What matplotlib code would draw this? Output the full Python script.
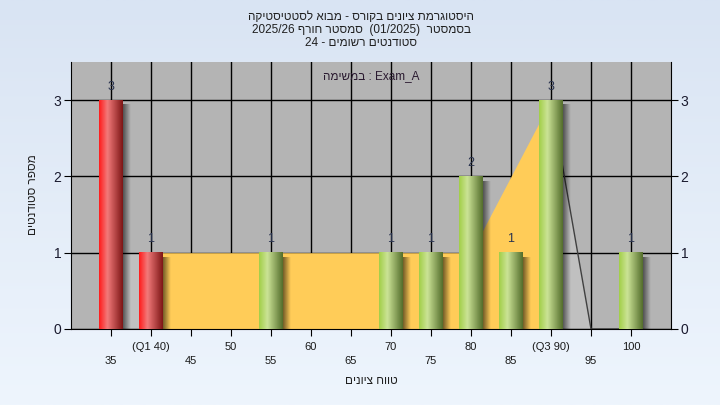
import re
import numpy as np
import matplotlib
matplotlib.use('Agg')
import matplotlib.pyplot as plt
from matplotlib.colors import LinearSegmentedColormap

plt.rcParams['font.family'] = ['Liberation Sans', 'DejaVu Sans']

# --- data ---
bin_centers = [35, 40, 55, 70, 75, 80, 85, 90, 100]
counts = [3, 1, 1, 1, 1, 2, 1, 3, 1]
q1, q3 = 40, 90

area_x = [35, 40, 45, 50, 55, 60, 65, 70, 75, 80, 85, 90, 95, 100]
area_y = [1, 1, 1, 1, 1, 1, 1, 1, 1, 1, 2, 3, 0, 0]

tick_values = [35, 40, 45, 50, 55, 60, 65, 70, 75, 80, 85, 90, 95, 100]
tick_labels = ['35', '(Q1 40)', '45', '50', '55', '60', '65', '70', '75',
               '80', '85', '(Q3 90)', '95', '100']

title_lines = ['היסטוגרמת ציונים בקורס - מבוא לסטטיסטיקה',
               'בסמסטר  (01/2025)  סמסטר חורף 2025/26',
               'סטודנטים רשומים - 24']
series_name = 'Exam_A'
x_title = 'טווח ציונים'
y_title = 'מספר סטודנטים'


def rtl(s):
    # simple visual reordering for Hebrew text (matplotlib has no bidi)
    r = s[::-1]
    r = re.sub(r'[0-9A-Za-z/_.:]+', lambda m: m.group(0)[::-1], r)
    return r.translate(str.maketrans('()', ')('))


fig = plt.figure(figsize=(7.2, 4.05), dpi=100)

# figure background gradient
bg = fig.add_axes([0, 0, 1, 1], zorder=-10)
grad = np.linspace(0, 1, 256).reshape(-1, 1)
bg.imshow(grad, aspect='auto', extent=[0, 1, 0, 1], origin='upper',
          cmap=LinearSegmentedColormap.from_list('bg', ['#d9e4f3', '#eef5fd']))
bg.axis('off')

ax = fig.add_axes([71 / 720, 1 - 329 / 405, 600 / 720, 267 / 405])
ax.set_facecolor('#b4b4b4')
ax.set_axisbelow(True)
ax.grid(True, color='black', lw=1)

# area series: grey outside the quartiles, yellow between
ax_arr = np.array(area_x)
ay_arr = np.array(area_y)
left = ax_arr <= q1
mid = (ax_arr >= q1) & (ax_arr <= q3)
right = ax_arr >= q3
ax.fill_between(ax_arr[left], 0, ay_arr[left], color='#c0c0c0', lw=0, zorder=0.3)
ax.fill_between(ax_arr[right], 0, ay_arr[right], color='#c0c0c0', lw=0, zorder=0.3)
ax.plot(ax_arr[right], ay_arr[right], color='#404040', lw=1, zorder=0.6)
ax.fill_between(ax_arr[mid], 0, ay_arr[mid], color='#ffcc58', lw=0, zorder=1)

# cylinder-style bars
red_cm = LinearSegmentedColormap.from_list(
    'r', [(0, '#ff1c1c'), (0.35, '#f27a7a'), (1, '#7e1616')])
green_cm = LinearSegmentedColormap.from_list(
    'g', [(0, '#a2cf48'), (0.35, '#cbe396'), (1, '#546e2c')])
bw = 3.0
shade = np.zeros((1, 32, 4))
shade[0, :, 3] = np.linspace(0.55, 0.0, 32)

for x, c in zip(bin_centers, counts):
    cm = red_cm if x <= q1 else green_cm
    row = cm(np.linspace(0, 1, 64))[None, :, :]
    ax.imshow(shade, extent=[x + bw / 2, x + bw / 2 + 1.0, 0, c - 0.06],
              aspect='auto', interpolation='bilinear', zorder=3)
    ax.imshow(row, extent=[x - bw / 2, x + bw / 2, 0, c],
              aspect='auto', interpolation='bilinear', zorder=4)
    ax.text(x, c + 0.1, str(c), ha='center', va='bottom', fontsize=9,
            color='#2a3450', zorder=5)

ax.set_xlim(30, 105)
ax.set_ylim(0, 3.5)

ax.set_xticks(tick_values)
ax.set_xticklabels([lab if i % 2 else '\n' + lab for i, lab in enumerate(tick_labels)],
                   fontsize=8, color='#1a1a1a')
for t in ax.get_xticklabels():
    t.set_linespacing(1.55)
ax.set_yticks([0, 1, 2, 3])
ax.tick_params(axis='x', direction='out', length=5, pad=4, color='black')
ax.tick_params(axis='y', direction='out', length=5, pad=2, labelsize=10,
               left=True, right=True, labelleft=True, labelright=True,
               labelcolor='#1a1a2e')
ax.spines['top'].set_visible(False)
for s in ['left', 'right', 'bottom']:
    ax.spines[s].set_color('black')

ax.text(0.5, 1 - 14 / 267, rtl('במשימה') + ' : ' + series_name,
        transform=ax.transAxes, ha='center', va='center', fontsize=8.5,
        color='#2a1a30', zorder=6)

# titles
for i, line in enumerate(title_lines):
    fig.text(361 / 720, 1 - (17 + 13 * i) / 405, rtl(line), ha='center',
             va='center', fontsize=8.5, color='#202020')

fig.text(371 / 720, 1 - 381 / 405, rtl(x_title), ha='center', va='center',
         fontsize=8.5, color='#202020')
fig.text(33 / 720, 1 - 195 / 405, rtl(y_title), ha='center', va='center',
         rotation=90, fontsize=8.5, color='#202020')

fig.savefig('out.png', dpi=100)
